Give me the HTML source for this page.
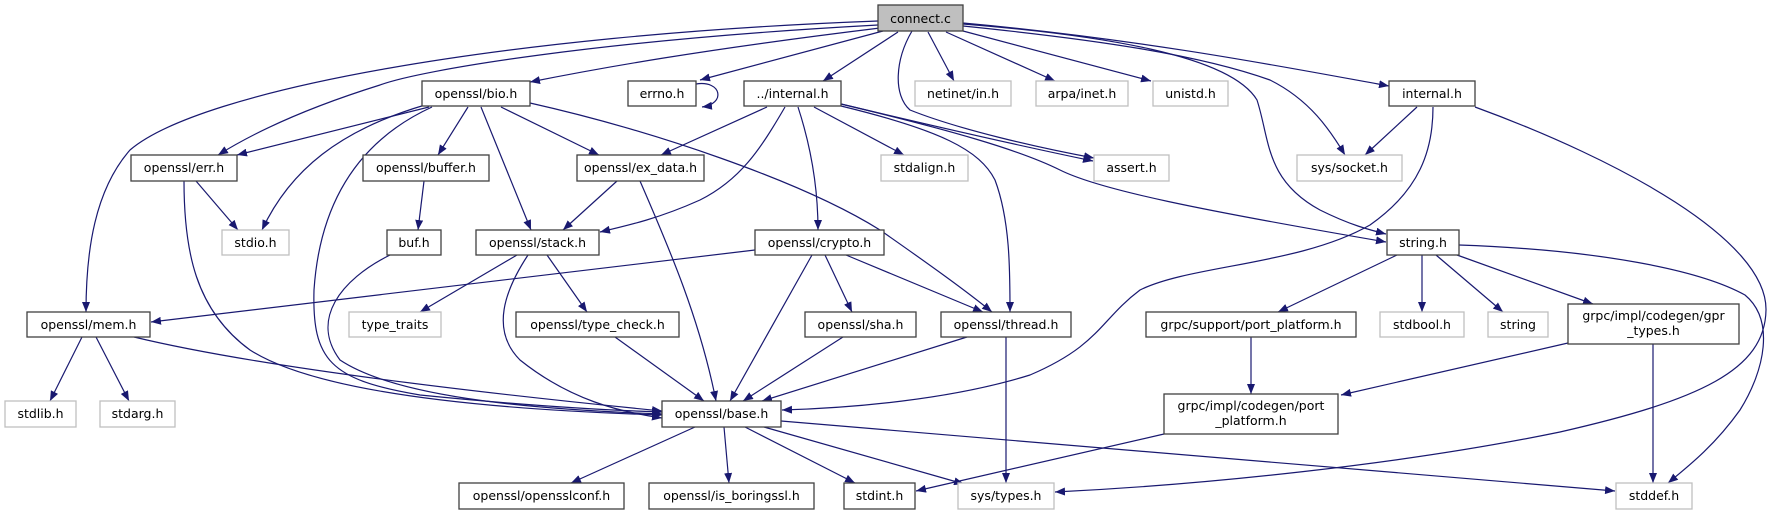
<!DOCTYPE html>
<html><head><meta charset="utf-8"><style>
html,body{margin:0;padding:0;background:#fff;}
svg{display:block;}
text{font-family:"DejaVu Sans","Liberation Sans",sans-serif;font-size:12.5px;fill:#000;text-anchor:middle;}
.b{fill:#fff;stroke:#404040;stroke-width:1.3;}
.g{fill:#fff;stroke:#bfbfbf;stroke-width:1.3;}
.e{fill:none;stroke:#191970;stroke-width:1.2;}
</style></head><body>
<svg width="1772" height="515" viewBox="0 0 1772 515" xmlns="http://www.w3.org/2000/svg">
<defs><marker id="a" markerUnits="userSpaceOnUse" markerWidth="11" markerHeight="8" refX="10" refY="4" orient="auto"><path d="M0,0 L10,4 L0,8 z" fill="#191970"/></marker></defs>
<g marker-end="url(#a)">
<!-- connect.c -->
<path class="e" d="M878,21 C500,35 200,90 130,150 C95,190 86,250 86,312"/>
<path class="e" d="M878,25 C600,40 420,70 380,85 C300,110 250,135 218,155"/>
<path class="e" d="M880,28 C700,50 600,68 530,82"/>
<path class="e" d="M883,31 L700,80"/>
<path class="e" d="M898,32 L823,81"/>
<path class="e" d="M928,32 L954,81"/>
<path class="e" d="M946,32 L1055,81"/>
<path class="e" d="M963,31 L1151,81"/>
<path class="e" d="M963,23 C1150,40 1300,70 1389,86"/>
<path class="e" d="M912,31 C895,60 893,95 910,110 C960,130 1040,148 1094,158"/>
<path class="e" d="M963,26 C1100,40 1200,55 1270,80 C1310,100 1330,130 1345,155"/>
<path class="e" d="M963,24 C1100,35 1230,55 1257,100 C1270,140 1265,180 1320,210 C1350,225 1370,230 1386,234"/>
<path class="e" d="M696,84 C722,80 726,104 702,107"/>
<!-- bio.h -->
<path class="e" d="M429,107 L237,155"/>
<path class="e" d="M425,105 C340,130 290,170 262,230"/>
<path class="e" d="M432,107 C360,140 320,200 314,290 C312,360 330,380 420,395 C520,405 600,410 662,412"/>
<path class="e" d="M468,107 L438,155"/>
<path class="e" d="M481,107 L531,230"/>
<path class="e" d="M501,107 L599,155"/>
<path class="e" d="M530,103 C650,130 800,180 880,230 C930,265 965,290 992,312"/>
<!-- err.h -->
<path class="e" d="M196,181 L238,230"/>
<path class="e" d="M184,181 C184,250 195,310 250,350 C320,395 500,410 662,415"/>
<!-- buffer/buf -->
<path class="e" d="M424,181 L418,230"/>
<path class="e" d="M390,255 C340,280 310,320 340,360 C400,400 550,410 662,414"/>
<!-- ../internal.h -->
<path class="e" d="M767,107 L661,155"/>
<path class="e" d="M785,107 C760,150 740,180 700,200 C660,218 630,225 600,232"/>
<path class="e" d="M814,107 L904,155"/>
<path class="e" d="M798,107 C812,150 818,190 818,230"/>
<path class="e" d="M841,106 C940,130 980,150 995,180 C1010,220 1010,270 1010,312"/>
<path class="e" d="M841,104 C950,130 1040,150 1093,161"/>
<path class="e" d="M841,104 C950,130 1020,150 1060,170 C1100,190 1200,210 1386,242"/>
<!-- ex_data -->
<path class="e" d="M617,181 L563,230"/>
<path class="e" d="M640,181 C670,250 700,320 716,401"/>
<!-- stack -->
<path class="e" d="M517,255 L420,312"/>
<path class="e" d="M547,255 L587,312"/>
<path class="e" d="M528,255 C505,290 490,330 520,360 C570,400 620,412 662,418"/>
<!-- crypto -->
<path class="e" d="M755,250 L151,322"/>
<path class="e" d="M812,255 L730,401"/>
<path class="e" d="M825,255 L852,312"/>
<path class="e" d="M846,255 L983,312"/>
<!-- row4 -->
<path class="e" d="M615,337 L704,401"/>
<path class="e" d="M843,337 L743,401"/>
<path class="e" d="M967,337 L762,401"/>
<path class="e" d="M1006,337 L1006,483"/>
<path class="e" d="M82,337 L50,401"/>
<path class="e" d="M96,337 L129,401"/>
<path class="e" d="M134,337 C250,365 450,390 662,411"/>
<!-- base -->
<path class="e" d="M695,427 L571,483"/>
<path class="e" d="M724,427 L729,483"/>
<path class="e" d="M745,427 L855,483"/>
<path class="e" d="M764,427 L964,484"/>
<path class="e" d="M781,421 L1615,491"/>
<!-- internal.h -->
<path class="e" d="M1417,107 L1365,155"/>
<path class="e" d="M1433,107 C1433,150 1420,190 1370,225 C1300,265 1190,265 1140,290 C1100,320 1100,345 1030,375 C950,400 850,408 782,410"/>
<path class="e" d="M1475,107 C1620,160 1767,240 1766,310 C1765,370 1700,400 1560,432 C1400,465 1200,485 1055,492"/>
<!-- string.h -->
<path class="e" d="M1397,255 L1278,312"/>
<path class="e" d="M1422,255 L1422,312"/>
<path class="e" d="M1436,255 L1503,312"/>
<path class="e" d="M1457,255 L1593,304"/>
<path class="e" d="M1459,245 C1600,250 1700,270 1745,295 C1775,320 1765,370 1740,410 C1715,445 1690,465 1668,483"/>
<path class="e" d="M1251,337 L1251,394"/>
<path class="e" d="M1568,343 L1341,395"/>
<path class="e" d="M1653,344 L1653,483"/>
<path class="e" d="M1164,434 L916,491"/>
</g>
<!-- nodes -->
<rect x="878" y="5" width="85" height="26" fill="#bfbfbf" stroke="#404040" stroke-width="1.3"/><text x="920.5" y="23">connect.c</text>
<rect class="b" x="422" y="81" width="108" height="25"/><text x="476" y="98">openssl/bio.h</text>
<rect class="b" x="628" y="81" width="68" height="25"/><text x="662" y="98">errno.h</text>
<rect class="b" x="744" y="81" width="97" height="25"/><text x="792.5" y="98">../internal.h</text>
<rect class="g" x="915" y="81" width="96" height="25"/><text x="963" y="98">netinet/in.h</text>
<rect class="g" x="1036" y="81" width="92" height="25"/><text x="1082" y="98">arpa/inet.h</text>
<rect class="g" x="1153" y="81" width="75" height="25"/><text x="1190.5" y="98">unistd.h</text>
<rect class="b" x="1389" y="81" width="86" height="25"/><text x="1432" y="98">internal.h</text>
<rect class="b" x="131" y="155" width="106" height="26"/><text x="184" y="172">openssl/err.h</text>
<rect class="b" x="363" y="155" width="126" height="26"/><text x="426" y="172">openssl/buffer.h</text>
<rect class="b" x="577" y="155" width="127" height="26"/><text x="640.5" y="172">openssl/ex_data.h</text>
<rect class="g" x="881" y="155" width="87" height="26"/><text x="924.5" y="172">stdalign.h</text>
<rect class="g" x="1094" y="155" width="75" height="26"/><text x="1131.5" y="172">assert.h</text>
<rect class="g" x="1297" y="155" width="105" height="26"/><text x="1349.5" y="172">sys/socket.h</text>
<rect class="g" x="222" y="230" width="67" height="25"/><text x="255.5" y="247">stdio.h</text>
<rect class="b" x="387" y="230" width="54" height="25"/><text x="414" y="247">buf.h</text>
<rect class="b" x="476" y="230" width="123" height="25"/><text x="537.5" y="247">openssl/stack.h</text>
<rect class="b" x="755" y="230" width="129" height="25"/><text x="819.5" y="247">openssl/crypto.h</text>
<rect class="b" x="1387" y="230" width="72" height="25"/><text x="1423" y="247">string.h</text>
<rect class="b" x="27" y="312" width="123" height="25"/><text x="88.5" y="329">openssl/mem.h</text>
<rect class="g" x="349" y="312" width="92" height="25"/><text x="395" y="329">type_traits</text>
<rect class="b" x="516" y="312" width="163" height="25"/><text x="597.5" y="329">openssl/type_check.h</text>
<rect class="b" x="805" y="312" width="111" height="25"/><text x="860.5" y="329">openssl/sha.h</text>
<rect class="b" x="941" y="312" width="130" height="25"/><text x="1006" y="329">openssl/thread.h</text>
<rect class="b" x="1146" y="312" width="210" height="25"/><text x="1251" y="329">grpc/support/port_platform.h</text>
<rect class="g" x="1380" y="312" width="84" height="25"/><text x="1422" y="329">stdbool.h</text>
<rect class="g" x="1488" y="312" width="60" height="25"/><text x="1518" y="329">string</text>
<rect class="b" x="1568" y="304" width="171" height="40"/><text x="1653.5" y="320">grpc/impl/codegen/gpr</text><text x="1653.5" y="335">_types.h</text>
<rect class="g" x="5" y="401" width="71" height="26"/><text x="40.5" y="418">stdlib.h</text>
<rect class="g" x="100" y="401" width="75" height="26"/><text x="137.5" y="418">stdarg.h</text>
<rect class="b" x="662" y="401" width="119" height="26"/><text x="721.5" y="418">openssl/base.h</text>
<rect class="b" x="1164" y="394" width="174" height="40"/><text x="1251" y="410">grpc/impl/codegen/port</text><text x="1251" y="425">_platform.h</text>
<rect class="b" x="459" y="483" width="165" height="26"/><text x="541.5" y="500">openssl/opensslconf.h</text>
<rect class="b" x="649" y="483" width="165" height="26"/><text x="731.5" y="500">openssl/is_boringssl.h</text>
<rect class="b" x="844" y="483" width="71" height="26"/><text x="879.5" y="500">stdint.h</text>
<rect class="g" x="958" y="483" width="96" height="26"/><text x="1006" y="500">sys/types.h</text>
<rect class="g" x="1616" y="483" width="76" height="26"/><text x="1654" y="500">stddef.h</text>
</svg>
</body></html>
